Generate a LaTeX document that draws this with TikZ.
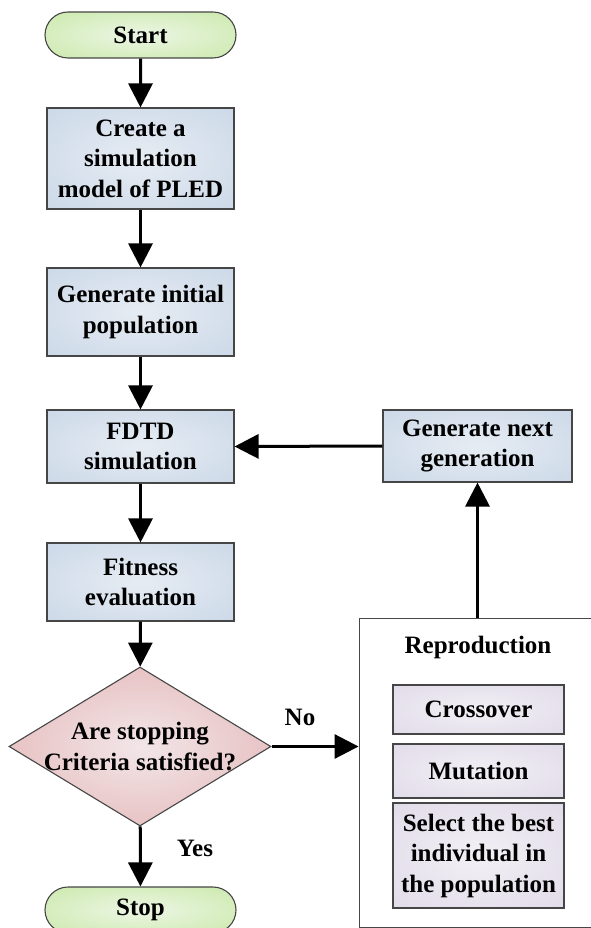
\documentclass[tikz,border=0pt]{standalone}
\usepackage{fontspec}
\setmainfont{Liberation Serif}[BoldFont={Liberation Serif Bold}]
\usetikzlibrary{shapes.geometric,shapes.misc,arrows.meta}
\definecolor{edgegray}{RGB}{70,70,70}
\pgfdeclareradialshading{sgreen}{\pgfpoint{0bp}{0bp}}{color(0bp)=(rgb,255:red,236;green,246;blue,228); color(50bp)=(rgb,255:red,190;green,228;blue,150); color(75bp)=(rgb,255:red,182;green,224;blue,140)}
\pgfdeclareradialshading{sblue}{\pgfpoint{0bp}{0bp}}{color(0bp)=(rgb,255:red,230;green,236;blue,243); color(50bp)=(rgb,255:red,194;green,209;blue,228); color(75bp)=(rgb,255:red,188;green,204;blue,224)}
\pgfdeclareradialshading{spink}{\pgfpoint{0bp}{0bp}}{color(0bp)=(rgb,255:red,242;green,230;blue,232); color(50bp)=(rgb,255:red,222;green,160;blue,160); color(75bp)=(rgb,255:red,215;green,150;blue,150)}
\pgfdeclareradialshading{spurple}{\pgfpoint{0bp}{0bp}}{color(0bp)=(rgb,255:red,242;green,240;blue,245); color(50bp)=(rgb,255:red,218;green,211;blue,228); color(75bp)=(rgb,255:red,212;green,205;blue,224)}
\tikzset{
  base/.style={draw=edgegray, line width=1.1pt, inner sep=0pt, align=center,
    font=\fontsize{25}{30.5}\selectfont\bfseries},
  term/.style={base, rounded rectangle, shading=sgreen, minimum width=191pt, minimum height=46pt},
  proc/.style={base, rectangle, shading=sblue, minimum width=187pt},
  subbox/.style={base, rectangle, shading=spurple, minimum width=171pt},
  dec/.style={base, diamond, shading=spink, minimum width=262pt, minimum height=159pt},
  txt/.style={inner sep=0pt, align=center, font=\fontsize{25}{30.5}\selectfont\bfseries},
  flow/.style={line width=3pt, -{Triangle[length=24pt,width=24pt]}}
}
\begin{document}
\begin{tikzpicture}[x=1pt,y=-1pt]
\useasboundingbox (0,0) rectangle (591,928);
\clip (0,0) rectangle (591,928);
\node[term] (start) at (140.5,35) {Start};
\node[proc, minimum height=101pt] (model) at (140.5,158.5) {Create a\\simulation\\model of PLED};
\node[proc, minimum height=88pt] (init) at (140.5,312) {Generate initial\\population};
\node[proc, minimum height=73pt] (fdtd) at (140.5,446.5) {FDTD\\simulation};
\node[proc, minimum height=78pt] (fit) at (140.5,582) {Fitness\\evaluation};
\node[dec] (dia) at (140,746.5) {};
\node[txt] (diatext) at (dia.center) {Are stopping\\Criteria satisfied?};
\node[term] (stop) at (140.5,910) {Stop};
\node[proc, minimum width=189pt, minimum height=72pt] (next) at (477.5,446) {Generate next\\generation};
\node[draw=edgegray, line width=0.9pt, fill=white, inner sep=0pt, minimum width=250pt, minimum height=309pt] (rep) at (484,772.5) {};
\node[txt] (reptitle) at (478,647) {Reproduction};
\node[subbox, minimum height=49pt] (cross) at (478.5,709.5) {Crossover};
\node[subbox, minimum height=54pt] (mut) at (478.5,771) {Mutation};
\node[subbox, minimum height=105pt] (sel) at (478.5,855.5) {Select the best\\individual in\\the population};
\draw[flow] (start) -- (model);
\draw[flow] (model) -- (init);
\draw[flow] (init) -- (fdtd);
\draw[flow] (fdtd) -- (fit);
\draw[flow] (fit) -- (dia);
\draw[flow] (dia) -- (stop);
\draw[flow] (dia.east) -- (dia.east -| rep.west);
\draw[flow] (next.south |- rep.north) -- (next.south);
\draw[flow] (next.west) -- (fdtd.east);
\node[txt] (nolabel) at (300,717) {No};
\node[txt] (yeslabel) at (195,848) {Yes};
\end{tikzpicture}
\end{document}
